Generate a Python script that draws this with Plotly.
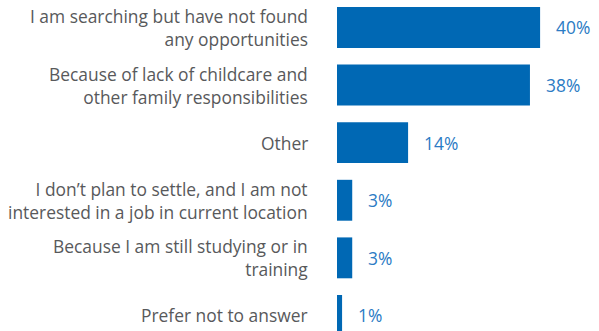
import plotly.graph_objects as go

categories = [
    "I am searching but have not found<br>any opportunities",
    "Because of lack of childcare and<br>other family responsibilities",
    "Other",
    "I don’t plan to settle, and I am not<br>interested in a job in current location",
    "Because I am still studying or in<br>training",
    "Prefer not to answer",
]
values = [40, 38, 14, 3, 3, 1]
value_labels = [f"{v}%" for v in values]

BAR_COLOR = "#0068b4"
LABEL_COLOR = "#2b7bc4"
TEXT_COLOR = "#58595b"
FONT = "Open Sans, sans-serif"
FONT_SIZE = 17.4

fig = go.Figure(
    go.Bar(
        x=values,
        y=list(range(len(categories))),
        orientation="h",
        marker=dict(color=BAR_COLOR, line=dict(width=0)),
        width=0.71,
        hoverinfo="skip",
    )
)

# value labels just past the end of each bar
for i, (v, lab) in enumerate(zip(values, value_labels)):
    fig.add_annotation(
        x=v, y=i, text=lab, showarrow=False,
        xanchor="left", yanchor="middle", xshift=14,
        font=dict(family=FONT, size=FONT_SIZE, color=LABEL_COLOR),
    )

# category labels, right-aligned to the left of the bars
for i, cat in enumerate(categories):
    fig.add_annotation(
        xref="paper", x=0, y=i, text=cat, showarrow=False,
        xanchor="right", yanchor="middle", xshift=-27, align="right",
        font=dict(family=FONT, size=FONT_SIZE, color=TEXT_COLOR),
    )

fig.update_layout(
    width=599, height=331,
    margin=dict(l=337, r=0, t=0, b=0),
    paper_bgcolor="white", plot_bgcolor="white",
    showlegend=False,
    xaxis=dict(range=[0, 51.6], visible=False, fixedrange=True),
    yaxis=dict(range=[5.27, -0.477], visible=False, fixedrange=True),
)

fig.write_html("out.html")
